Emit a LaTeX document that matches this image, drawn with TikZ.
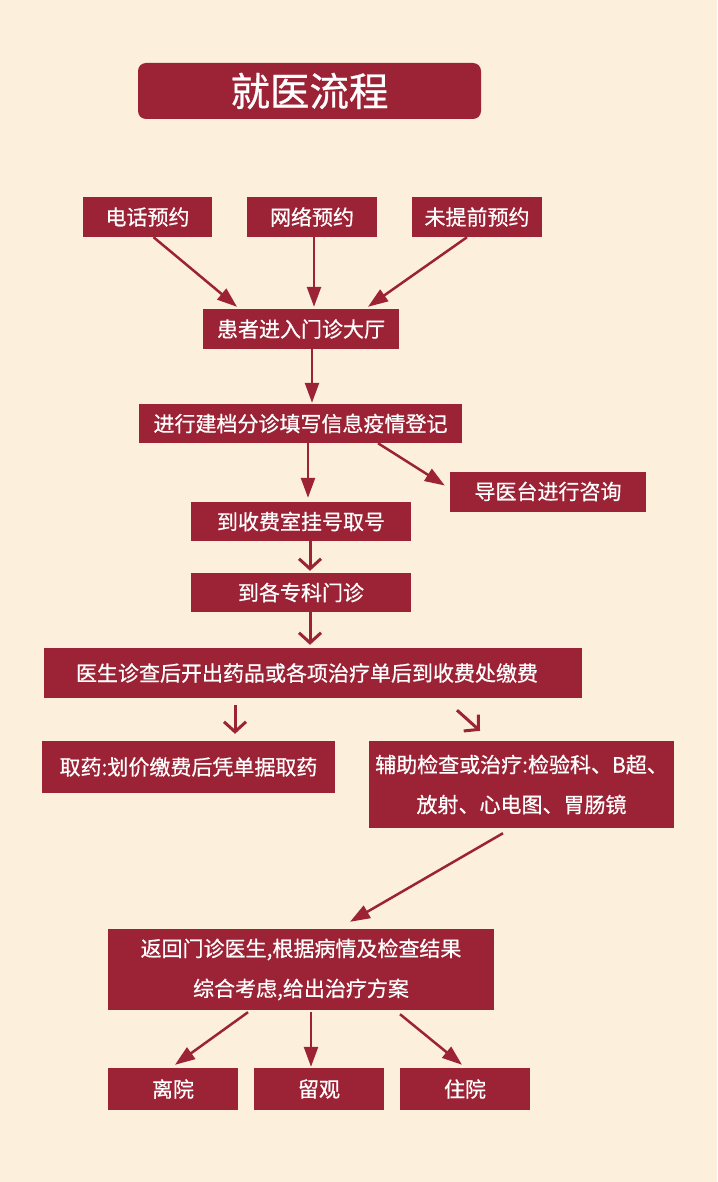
\documentclass[tikz,border=0pt]{standalone}
\usepackage{fontspec}
\setmainfont{Noto Sans CJK SC}[FakeBold=0.6]
\usepackage{tikz}
\usetikzlibrary{arrows.meta}

\definecolor{boxred}{HTML}{9B2335}
\definecolor{bgcream}{HTML}{FCF0DC}

\begin{document}
\begin{tikzpicture}[x=1pt, y=-1pt,
    box/.style={fill=boxred, text=white, inner sep=0pt, align=center,
        font=\fontsize{21}{40}\selectfont},
    tri/.style={draw=boxred, line width=2.5pt, -{Triangle[length=20pt, width=14pt]}},
    vee/.style={draw=boxred, line width=3pt, -{Straight Barb[length=10pt, width=22pt]}}]
    \fill[bgcream] (0, 0) rectangle (717, 1182);

    % Title
    \node[box, rounded corners=8pt, minimum width=343pt, minimum height=56pt,
        font=\fontsize{39.5}{40}\selectfont] (title) at (309.5, 91) {就医流程};

    % Appointment ways
    \node[box, minimum width=129pt, minimum height=40pt] (phone) at (147.5, 217) {电话预约};
    \node[box, minimum width=130pt, minimum height=40pt] (net) at (312, 217) {网络预约};
    \node[box, minimum width=130pt, minimum height=40pt] (walkin) at (477, 217) {未提前预约};

    \node[box, minimum width=196pt, minimum height=40pt] (hall) at (301, 329) {患者进入门诊大厅};
    \node[box, minimum width=323pt, minimum height=39pt] (reg) at (300.5, 423.5) {进行建档分诊填写信息疫情登记};
    \node[box, minimum width=196pt, minimum height=40pt] (guide) at (548, 491.5) {导医台进行咨询};
    \node[box, minimum width=220pt, minimum height=39pt] (fee) at (301, 521.5) {到收费室挂号取号};
    \node[box, minimum width=220pt, minimum height=39pt] (dept) at (301, 592.5) {到各专科门诊};
    \node[box, minimum width=538pt, minimum height=50pt] (doctor) at (313, 673) {医生诊查后开出药品或各项治疗单后到收费处缴费\hspace*{12pt}};

    % Two branches
    \node[box, minimum width=293pt, minimum height=52pt] (drug) at (188.5, 767) {取药:划价缴费后凭单据取药};
    \node[box, minimum width=305pt, minimum height=87pt] (aux) at (521.5, 784.5) {辅助检查或治疗:检验科、B超、\\放射、心电图、胃肠镜};

    \node[box, minimum width=386pt, minimum height=81pt] (back) at (301, 969.5) {返回门诊医生,根据病情及检查结果\\综合考虑,给出治疗方案};

    % Outcomes
    \node[box, minimum width=130pt, minimum height=42pt] (leave) at (173, 1089) {离院};
    \node[box, minimum width=130pt, minimum height=42pt] (observe) at (319, 1089) {留观};
    \node[box, minimum width=130pt, minimum height=42pt] (admit) at (465, 1089) {住院};

    % Connectors
    \draw[tri] ([xshift=6pt]phone.south) -- ([xshift=-64pt, yshift=2pt]hall.north);
    \draw[tri] ([xshift=2pt]net.south) -- ([xshift=13pt, yshift=2pt]hall.north);
    \draw[tri] ([xshift=-10pt]walkin.south) -- ([xshift=67pt, yshift=2pt]hall.north);
    \draw[tri] ([xshift=11pt]hall.south) -- ([xshift=11.5pt, yshift=1pt]reg.north);
    \draw[tri] ([xshift=7.5pt]reg.south) -- ([xshift=7pt, yshift=4pt]fee.north);
    \draw[tri] ([xshift=77.5pt]reg.south) -- ([xshift=-5pt, yshift=6pt]guide.west);
    \draw[vee] ([xshift=9pt]fee.south) -- ([xshift=9pt, yshift=2pt]dept.north);
    \draw[vee] ([xshift=9pt]dept.south) -- ([xshift=-3pt, yshift=3pt]doctor.north);
    \draw[vee] ([xshift=-78pt, yshift=-7pt]doctor.south) -- ([xshift=46.5pt, yshift=7pt]drug.north);
    \draw[vee] ([xshift=144pt, yshift=-12pt]doctor.south) -- ([xshift=-41.5pt, yshift=10pt]aux.north);
    \draw[tri] ([xshift=-18.5pt, yshift=-5pt]aux.south) -- ([xshift=49pt, yshift=7pt]back.north);
    \draw[tri] ([xshift=-53pt, yshift=-2pt]back.south) -- ([xshift=2pt, yshift=3pt]leave.north);
    \draw[tri] ([xshift=10pt, yshift=-2pt]back.south) -- ([xshift=-8pt, yshift=1pt]observe.north);
    \draw[tri] ([xshift=99pt, yshift=-4pt]back.south) -- ([xshift=-3pt, yshift=3pt]admit.north);
\end{tikzpicture}
\end{document}
